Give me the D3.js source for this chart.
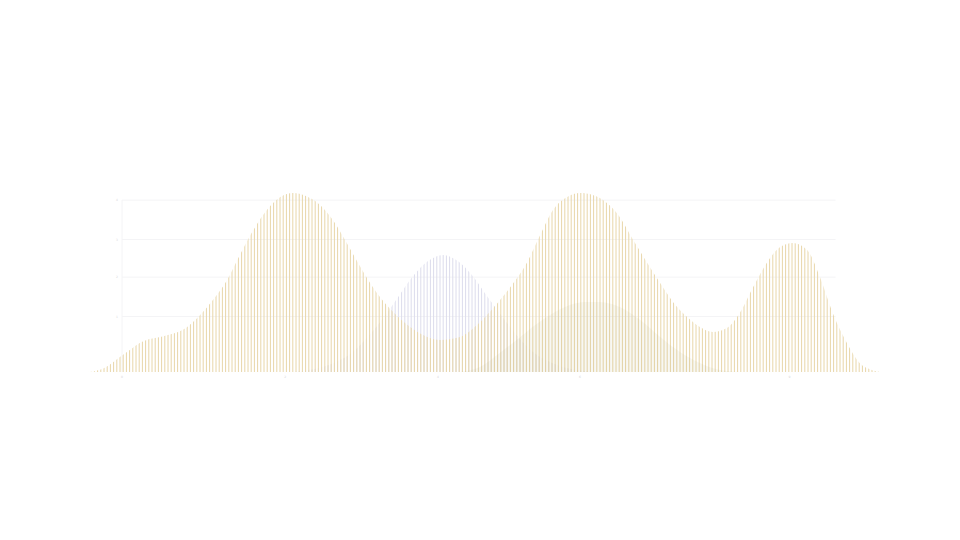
<!DOCTYPE html>
<html>
<head>
<meta charset="utf-8">
<script src="https://cdn.jsdelivr.net/npm/d3@7.9.0/dist/d3.min.js"></script>
<style>
  html, body { margin: 0; background: #fff; }
  svg { display: block; }
</style>
</head>
<body>
<svg id="chart" width="960" height="540"></svg>
<script>
// gold series (position, density)
const goldX = [-4.8, -3.7, -2.5, -1.4, -0.3, 1.1, 2.5, 3.9, 5.4, 7.0, 9.0, 11.0, 12.8, 14.8, 16.6, 18.5, 20.4, 22.3, 24.1, 25.9, 27.9, 29.7, 31.5, 33.5, 35.9, 38.2, 40.6, 43.0, 44.8, 47.6, 50.0, 52.3, 54.6, 57.0, 58.9, 60.7, 62.7, 64.5, 66.3, 68.3, 70.1, 72.0, 73.9, 75.8, 77.6, 79.6, 81.4, 83.2, 85.2, 87.0, 88.9, 90.8, 92.7, 94.5, 96.5, 98.3, 100.1, 102.1, 103.9, 105.6, 106.8];
const goldY = [0, 0.006, 0.022, 0.05, 0.084, 0.123, 0.162, 0.184, 0.196, 0.212, 0.246, 0.318, 0.402, 0.514, 0.654, 0.793, 0.905, 0.978, 1.0, 0.983, 0.933, 0.849, 0.732, 0.592, 0.441, 0.335, 0.251, 0.196, 0.179, 0.196, 0.263, 0.358, 0.469, 0.609, 0.765, 0.905, 0.978, 1.0, 0.989, 0.944, 0.866, 0.737, 0.615, 0.497, 0.391, 0.307, 0.251, 0.223, 0.246, 0.33, 0.475, 0.609, 0.698, 0.721, 0.682, 0.531, 0.33, 0.162, 0.05, 0.011, 0];

// lavender series
const lavX = [24.1, 26.2, 28.3, 30.4, 32.5, 34.6, 36.8, 38.9, 41.0, 43.1, 45.2, 47.3, 49.4, 51.5, 53.7, 55.8, 57.9, 60.0, 62.1, 64.2, 66.3];
const lavY = [0, 0.011, 0.028, 0.061, 0.112, 0.196, 0.302, 0.419, 0.536, 0.62, 0.654, 0.62, 0.536, 0.419, 0.302, 0.196, 0.112, 0.061, 0.028, 0.011, 0];

// olive series
const oliveX = [47.6, 50.4, 53.2, 56.1, 58.2, 60.3, 63.1, 65.2, 67.3, 70.1, 73.0, 75.8, 78.6, 81.4, 84.2, 87.0];
const oliveY = [0, 0.028, 0.106, 0.196, 0.263, 0.318, 0.374, 0.391, 0.391, 0.363, 0.291, 0.196, 0.112, 0.05, 0.011, 0];

// axis ticks
const xTicks = [0, 23, 44.5, 64.5, 94];
const xTickLabels = ['0', '2', '4', '6', '9'];
const yTicks = [0.31, 0.53, 0.74, 0.96];
const yTickLabels = ['1', '2', '3', '4'];

const svg = d3.select('#chart');

const x = d3.scaleLinear().domain([0, 100]).range([122, 832]);
const y = d3.scaleLinear().domain([0, 1]).range([372, 193]);

const zip = (a, b) => a.map((v, i) => [v, b[i]]);

const area = d3.area()
  .x(d => x(d[0]))
  .y0(y(0))
  .y1(d => y(d[1]))
  .curve(d3.curveMonotoneX);

// GRID
svg.append('g')
  .selectAll('line')
  .data(yTicks)
  .join('line')
  .attr('x1', x(0))
  .attr('x2', x(100.5))
  .attr('y1', d => y(d))
  .attr('y2', d => y(d))
  .attr('stroke', '#f4f4f6')
  .attr('stroke-width', 1);

svg.append('line')
  .attr('x1', x(0)).attr('x2', x(0))
  .attr('y1', y(0.96)).attr('y2', y(0))
  .attr('stroke', '#f4f4f6');

// HATCHED AREAS
const defs = svg.append('defs');
const hatchX = d3.range(88, 882, 3.2);

function hatched(id, data, color) {
  defs.append('clipPath')
    .attr('id', id)
    .append('path')
    .attr('d', area(data));

  svg.append('g')
    .attr('clip-path', `url(#${id})`)
    .selectAll('line')
    .data(hatchX)
    .join('line')
    .attr('x1', d => d)
    .attr('x2', d => d)
    .attr('y1', y(1.05))
    .attr('y2', y(0))
    .attr('stroke', color)
    .attr('stroke-width', 1);
}

hatched('clip-lav', zip(lavX, lavY), '#dcdcec');
hatched('clip-gold', zip(goldX, goldY), '#e8d6a8');

svg.append('path')
  .attr('d', area(zip(oliveX, oliveY)))
  .attr('fill', '#9c9a6a')
  .attr('opacity', 0.07);

// AXIS LABELS
svg.append('g')
  .selectAll('text')
  .data(yTicks)
  .join('text')
  .attr('x', x(0) - 4)
  .attr('y', d => y(d) + 1)
  .attr('text-anchor', 'end')
  .style('font', '3px "DejaVu Sans"')
  .attr('fill', '#d6d6da')
  .text((d, i) => yTickLabels[i]);

svg.append('g')
  .selectAll('text')
  .data(xTicks)
  .join('text')
  .attr('x', d => x(d))
  .attr('y', y(0) + 6)
  .attr('text-anchor', 'middle')
  .style('font', '3px "DejaVu Sans"')
  .attr('fill', '#d6d6da')
  .text((d, i) => xTickLabels[i]);
</script>
</body>
</html>
